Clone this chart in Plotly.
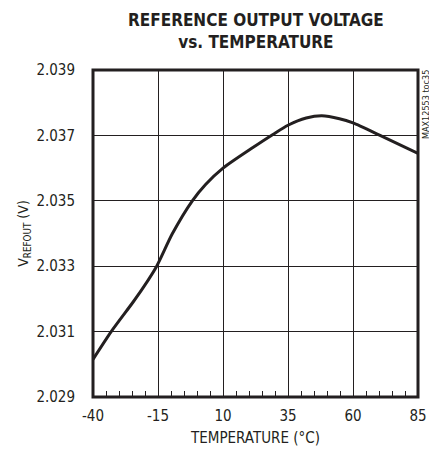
import plotly.graph_objects as go

temperature_c = [-40, -33.0, -24.7, -20.9, -15.5, -9.5, -1.8, 3.3, 10, 21.5, 29.2, 35, 42.0, 48.0, 54.8, 60, 70.4, 85]
vrefout_v = [2.03015, 2.03100, 2.03189, 2.03232, 2.03300, 2.03399, 2.03500, 2.03550, 2.03600, 2.03663, 2.03703, 2.03731, 2.03753, 2.03760, 2.03751, 2.03738, 2.03700, 2.03645]

x_ticks = [-40, -15, 10, 35, 60, 85]
x_tick_labels = ["-40", "-15", "10", "35", "60", "85"]
y_ticks = [2.029, 2.031, 2.033, 2.035, 2.037, 2.039]
y_tick_labels = ["2.029", "2.031", "2.033", "2.035", "2.037", "2.039"]

FONT = "DejaVu Sans Condensed, Liberation Sans, sans-serif"
INK = "#231f20"

fig = go.Figure()
fig.add_trace(go.Scatter(
    x=temperature_c, y=vrefout_v, mode="lines",
    line=dict(color=INK, width=3, shape="spline", smoothing=0.7),
    showlegend=False, hoverinfo="skip",
))

# page body has an 8px default margin; compensate so the plot lands at x 93..418, y 70..397
fig.update_layout(
    width=429, height=448,
    margin=dict(l=85, r=19, t=62, b=59, autoexpand=False),
    paper_bgcolor="white", plot_bgcolor="white",
    font=dict(family=FONT, color=INK, size=15),
)

fig.update_xaxes(
    range=[-40, 85], tickmode="array", tickvals=x_ticks, ticktext=x_tick_labels,
    showgrid=True, gridcolor=INK, gridwidth=1, automargin=False,
    zeroline=False, showline=False, ticks="",
    ticklabelstandoff=8,
    minor=dict(ticks="inside", tick0=-40, dtick=5, ticklen=6, tickcolor=INK, tickwidth=1, showgrid=False),
    title=dict(text="TEMPERATURE (°C)", standoff=8, font=dict(size=15)),
    tickfont=dict(size=15),
)
fig.update_yaxes(
    range=[2.029, 2.039], tickmode="array", tickvals=y_ticks, ticktext=y_tick_labels,
    showgrid=True, gridcolor=INK, gridwidth=1, automargin=False,
    zeroline=False, showline=False, ticks="",
    ticklabelstandoff=17,
    title=dict(text="V<sub>REFOUT</sub> (V)", standoff=4, font=dict(size=14)),
    tickfont=dict(size=15),
)

fig.add_shape(type="rect", xref="x domain", yref="y domain", x0=0, y0=0, x1=1, y1=1,
              line=dict(color=INK, width=3), fillcolor="rgba(0,0,0,0)", layer="above")

fig.add_annotation(text="<b>REFERENCE OUTPUT VOLTAGE<br>vs. TEMPERATURE</b>",
                   xref="paper", yref="paper", x=0.5, xanchor="center",
                   y=1.19, yanchor="top", showarrow=False, align="center",
                   font=dict(family=FONT, size=17, color=INK))

fig.add_annotation(text="MAX12553 toc35", xref="paper", yref="paper",
                   x=1.0, xanchor="center", xshift=8, y=0.893, yanchor="middle",
                   textangle=-90, showarrow=False,
                   font=dict(family=FONT, size=9, color=INK))

fig.write_html("out.html")
